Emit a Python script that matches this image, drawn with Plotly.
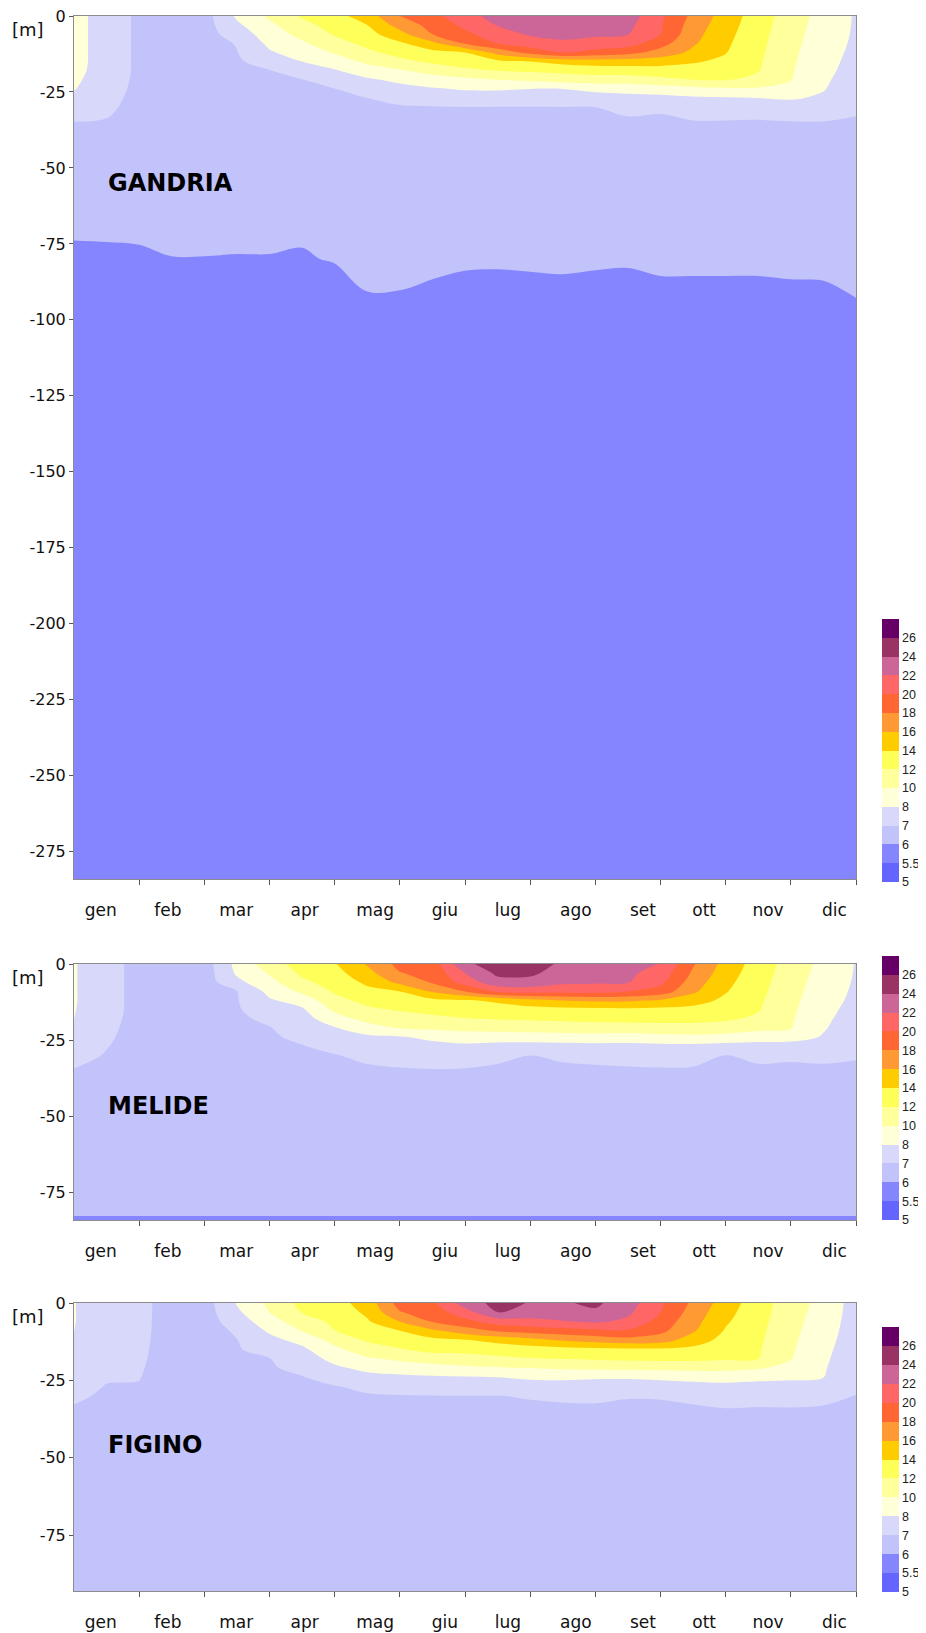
import numpy as np
import plotly.graph_objects as go

# ---------------- data ----------------
months = ["gen", "feb", "mar", "apr", "mag", "giu", "lug", "ago", "set", "ott", "nov", "dic"]

# sampling times (months since 1 January)
sample_months = [0.0, 0.5, 1.0, 1.5, 2.0, 2.5, 3.0, 3.5, 4.0, 4.5, 5.0, 5.5, 6.0,
                 6.5, 7.0, 7.5, 8.0, 8.5, 9.0, 9.5, 10.0, 10.5, 11.0, 11.5, 12.0]

# temperature levels of the colour scale (deg C) and their labels
temp_levels = [5, 5.5, 6, 7, 8, 10, 12, 14, 16, 18, 20, 22, 24, 26, 28]
level_labels = ["5", "5.5", "6", "7", "8", "10", "12", "14", "16", "18", "20", "22", "24", "26"]

# ---- GANDRIA: one temperature profile per sampling time ----
depth_gandria = [0, 3, 6, 9, 12, 15, 18, 21, 24, 27, 30, 35, 50, 70, 80, 90, 100, 284]
gandria_temp = [
    [8.6, 8.6, 8.6, 8.6, 8.6, 8.6, 8.5, 8.35, 8.09, 7.79, 7.47, 6.98, 6.5, 6.2, 5.84, 5.8, 5.8, 5.7],
    [7.6, 7.6, 7.6, 7.6, 7.6, 7.6, 7.6, 7.48, 7.37, 7.25, 7.14, 6.95, 6.5, 6.2, 5.87, 5.8, 5.8, 5.7],
    [6.8, 6.8, 6.8, 6.8, 6.8, 6.8, 6.8, 6.8, 6.78, 6.76, 6.75, 6.7, 6.5, 6.2, 5.91, 5.8, 5.8, 5.7],
    [6.6, 6.6, 6.6, 6.6, 6.6, 6.6, 6.6, 6.6, 6.6, 6.6, 6.6, 6.6, 6.5, 6.2, 5.99, 5.85, 5.85, 5.7],
    [6.6, 6.6, 6.6, 6.6, 6.6, 6.6, 6.6, 6.6, 6.6, 6.6, 6.6, 6.6, 6.5, 6.2, 5.99, 5.85, 5.85, 5.7],
    [8.3, 7.83, 7.45, 7.06, 6.97, 6.93, 6.9, 6.86, 6.82, 6.78, 6.75, 6.69, 6.5, 6.2, 5.98, 5.85, 5.85, 5.7],
    [10.35, 9.55, 9.0, 8.45, 7.89, 7.22, 6.97, 6.93, 6.88, 6.84, 6.79, 6.72, 6.5, 6.2, 5.98, 5.85, 5.85, 5.7],
    [12.2, 11.43, 10.57, 9.71, 8.86, 8.0, 7.4, 6.98, 6.93, 6.88, 6.83, 6.75, 6.5, 6.2, 5.94, 5.85, 5.85, 5.7],
    [13.3, 12.74, 12.19, 11.27, 10.18, 9.0, 7.91, 7.36, 6.98, 6.93, 6.87, 6.78, 6.5, 6.2, 6.1, 5.7, 5.7, 5.7],
    [15.0, 14.0, 13.25, 12.5, 11.6, 10.4, 9.0, 7.86, 7.43, 7.0, 6.93, 6.83, 6.5, 6.2, 6.1, 6.03, 5.88, 5.7],
    [18.0, 16.8, 15.33, 13.67, 12.67, 11.43, 9.78, 8.44, 7.67, 7.17, 6.95, 6.84, 6.5, 6.2, 6.1, 6.01, 5.8, 5.7],
    [19.4, 18.7, 18.0, 15.5, 13.45, 12.36, 10.67, 9.11, 7.9, 7.3, 6.97, 6.85, 6.5, 6.2, 6.1, 5.975, 5.85, 5.7],
    [21.2, 20.48, 19.56, 18.22, 14.0, 12.91, 11.6, 9.55, 8.18, 7.49, 6.99, 6.87, 6.5, 6.2, 6.1, 5.92, 5.85, 5.7],
    [22.8, 22.11, 21.09, 20.0, 16.67, 13.5, 12.0, 10.0, 8.24, 7.43, 6.98, 6.86, 6.5, 6.2, 6.1, 5.9, 5.85, 5.7],
    [23.3, 22.77, 22.23, 21.08, 18.67, 14.0, 12.29, 10.33, 8.0, 7.43, 6.98, 6.86, 6.5, 6.2, 6.1, 5.93, 5.85, 5.7],
    [23.5, 22.97, 22.44, 21.71, 20.0, 14.67, 12.57, 10.75, 8.0, 7.45, 6.99, 6.87, 6.5, 6.2, 6.1, 5.95, 5.85, 5.7],
    [23.3, 22.79, 22.29, 21.32, 19.33, 15.0, 12.86, 11.0, 8.5, 7.55, 7.0, 6.88, 6.5, 6.2, 6.1, 5.915, 5.85, 5.7],
    [23.0, 22.5, 22.08, 20.89, 18.67, 15.0, 12.95, 11.0, 8.71, 7.67, 7.17, 6.89, 6.5, 6.2, 6.1, 5.88, 5.85, 5.7],
    [20.4, 20.2, 20.0, 18.8, 17.2, 14.8, 13.11, 11.5, 9.0, 7.7, 7.1, 6.88, 6.5, 6.2, 6.1, 5.96, 5.85, 5.7],
    [17.5, 17.09, 16.68, 16.27, 15.56, 14.22, 13.09, 12.0, 9.33, 7.86, 7.43, 6.94, 6.5, 6.2, 6.1, 5.96, 5.85, 5.7],
    [15.1, 14.85, 14.59, 14.34, 14.08, 13.53, 12.82, 12.12, 9.67, 7.92, 7.46, 6.94, 6.5, 6.2, 6.1, 5.96, 5.85, 5.7],
    [13.0, 12.85, 12.7, 12.55, 12.4, 12.25, 12.1, 11.43, 9.71, 8.0, 7.4, 6.92, 6.5, 6.2, 6.1, 5.96, 5.85, 5.7],
    [11.0, 10.86, 10.73, 10.59, 10.45, 10.32, 10.18, 10.05, 9.27, 8.18, 7.58, 6.95, 6.5, 6.2, 6.1, 5.975, 5.85, 5.7],
    [9.3, 9.15, 9.0, 8.85, 8.7, 8.55, 8.4, 8.25, 8.1, 7.88, 7.5, 6.97, 6.5, 6.2, 6.1, 5.98, 5.85, 5.7],
    [7.9, 7.9, 7.88, 7.85, 7.8, 7.75, 7.7, 7.6, 7.45, 7.3, 7.12, 6.92, 6.5, 6.2, 6.1, 6.03, 5.96, 5.7],
]

# ---- MELIDE ----
depth_melide = [0, 3, 6, 9, 12, 15, 18, 21, 24, 27, 30, 35, 50, 80, 84]
melide_temp = [
    [8.15, 8.15, 8.15, 8.15, 8.15, 8.09, 8.02, 7.86, 7.66, 7.46, 7.25, 6.96, 6.5, 6.2, 5.95],
    [7.35, 7.35, 7.35, 7.35, 7.35, 7.35, 7.27, 7.19, 7.11, 7.03, 6.95, 6.84, 6.5, 6.2, 5.95],
    [6.7, 6.7, 6.7, 6.7, 6.7, 6.7, 6.7, 6.7, 6.7, 6.7, 6.7, 6.65, 6.5, 6.2, 5.95],
    [6.6, 6.6, 6.6, 6.6, 6.6, 6.6, 6.6, 6.6, 6.6, 6.6, 6.6, 6.6, 6.5, 6.2, 5.95],
    [6.5, 6.5, 6.5, 6.5, 6.5, 6.5, 6.5, 6.5, 6.5, 6.5, 6.5, 6.5, 6.45, 6.2, 5.95],
    [8.6, 8.27, 7.75, 6.98, 6.95, 6.91, 6.88, 6.84, 6.81, 6.77, 6.74, 6.68, 6.5, 6.2, 5.95],
    [11.1, 10.18, 9.35, 8.54, 7.88, 7.5, 7.13, 6.97, 6.92, 6.87, 6.82, 6.74, 6.5, 6.2, 5.95],
    [12.9, 12.36, 11.59, 10.37, 8.76, 7.86, 7.61, 7.37, 7.12, 6.97, 6.91, 6.81, 6.5, 6.2, 5.95],
    [13.85, 13.3, 12.75, 12.2, 11.37, 10.37, 9.12, 7.93, 7.56, 7.19, 6.97, 6.85, 6.5, 6.2, 5.95],
    [16.2, 15.31, 14.38, 13.45, 12.55, 11.61, 10.65, 9.13, 7.81, 7.47, 7.13, 6.9, 6.5, 6.2, 5.95],
    [18.6, 17.9, 16.48, 14.0, 13.08, 12.15, 11.12, 10.07, 7.91, 7.59, 7.27, 6.93, 6.5, 6.2, 5.95],
    [19.0, 18.59, 18.18, 16.21, 13.48, 12.55, 11.54, 10.38, 8.4, 7.72, 7.39, 6.95, 6.5, 6.2, 5.95],
    [23.7, 22.0, 20.8, 18.0, 13.78, 12.86, 11.91, 10.58, 8.94, 7.79, 7.36, 6.93, 6.5, 6.2, 5.95],
    [24.7, 24.4, 23.3, 20.27, 14.33, 13.08, 12.1, 10.74, 8.92, 7.68, 7.14, 6.89, 6.5, 6.2, 5.95],
    [24.8, 24.4, 23.3, 20.76, 15.27, 13.22, 12.2, 10.91, 9.0, 7.6, 7.0, 6.875, 6.5, 6.2, 5.95],
    [23.7, 23.04, 22.38, 20.63, 16.0, 13.36, 12.34, 11.02, 9.14, 7.66, 7.09, 6.89, 6.5, 6.2, 5.95],
    [23.1, 22.67, 22.23, 20.67, 16.33, 13.46, 12.45, 11.14, 9.2, 7.69, 7.17, 6.89, 6.5, 6.2, 5.95],
    [22.6, 22.36, 22.12, 20.0, 16.31, 13.52, 12.55, 11.21, 9.05, 7.7, 7.23, 6.91, 6.5, 6.2, 5.95],
    [21.95, 21.22, 20.49, 19.13, 15.65, 13.5, 12.56, 11.31, 9.3, 7.75, 7.3, 6.92, 6.5, 6.2, 5.95],
    [18.2, 17.67, 17.0, 16.33, 14.8, 13.41, 12.53, 11.33, 9.43, 7.75, 7.25, 6.91, 6.5, 6.2, 5.95],
    [15.3, 14.91, 14.52, 14.13, 13.57, 12.92, 12.28, 11.11, 9.25, 7.63, 6.99, 6.87, 6.5, 6.2, 5.95],
    [13.1, 12.91, 12.71, 12.52, 12.32, 12.13, 11.66, 10.62, 8.8, 7.65, 7.13, 6.89, 6.5, 6.2, 5.95],
    [11.2, 11.04, 10.87, 10.71, 10.55, 10.38, 10.22, 10.05, 8.67, 7.64, 7.09, 6.88, 6.5, 6.2, 5.95],
    [9.45, 9.26, 9.08, 8.9, 8.71, 8.52, 8.34, 8.15, 7.93, 7.53, 7.13, 6.89, 6.5, 6.2, 5.95],
    [7.95, 7.93, 7.9, 7.85, 7.8, 7.7, 7.6, 7.5, 7.35, 7.2, 7.05, 6.89, 6.5, 6.2, 5.95],
]

# ---- FIGINO ----
depth_figino = [0, 3, 6, 9, 12, 15, 18, 21, 24, 27, 30, 35, 50, 93]
figino_temp = [
    [8.05, 8.05, 8.05, 8.01, 7.95, 7.81, 7.66, 7.52, 7.38, 7.24, 7.1, 6.92, 6.5, 6.2],
    [7.6, 7.6, 7.6, 7.58, 7.55, 7.45, 7.33, 7.2, 7.06, 6.97, 6.91, 6.81, 6.5, 6.2],
    [7.2, 7.2, 7.19, 7.18, 7.16, 7.13, 7.1, 7.06, 7.02, 6.97, 6.91, 6.81, 6.5, 6.2],
    [6.7, 6.7, 6.7, 6.7, 6.7, 6.7, 6.7, 6.7, 6.7, 6.7, 6.7, 6.7, 6.5, 6.2],
    [6.55, 6.55, 6.55, 6.55, 6.55, 6.55, 6.55, 6.55, 6.55, 6.55, 6.55, 6.55, 6.5, 6.2],
    [8.15, 7.81, 7.48, 7.14, 6.98, 6.94, 6.9, 6.87, 6.83, 6.79, 6.75, 6.69, 6.5, 6.2],
    [10.35, 10.0, 9.14, 8.29, 7.71, 7.28, 6.98, 6.94, 6.89, 6.85, 6.8, 6.73, 6.5, 6.2],
    [12.6, 12.07, 11.1, 10.07, 8.6, 7.8, 7.48, 7.15, 6.97, 6.92, 6.86, 6.77, 6.5, 6.2],
    [13.2, 12.8, 12.39, 11.96, 10.65, 9.53, 8.59, 7.81, 7.28, 6.97, 6.91, 6.81, 6.5, 6.2],
    [14.9, 14.37, 13.77, 13.0, 12.23, 11.07, 9.76, 8.53, 7.69, 7.13, 6.95, 6.84, 6.5, 6.2],
    [18.8, 17.88, 16.0, 13.97, 12.93, 11.85, 10.35, 8.9, 7.81, 7.28, 6.97, 6.85, 6.5, 6.2],
    [19.7, 18.92, 18.13, 15.6, 13.47, 12.6, 10.86, 9.24, 7.88, 7.37, 6.98, 6.86, 6.5, 6.2],
    [23.0, 21.14, 19.38, 17.06, 13.84, 12.61, 11.21, 9.58, 7.93, 7.42, 6.99, 6.87, 6.5, 6.2],
    [24.6, 24.1, 20.9, 18.24, 14.53, 12.92, 11.54, 9.82, 8.0, 7.49, 6.99, 6.87, 6.5, 6.2],
    [23.9, 22.86, 21.52, 18.78, 15.25, 13.17, 11.88, 10.0, 8.29, 7.56, 7.04, 6.88, 6.5, 6.2],
    [23.8, 22.88, 21.9, 19.2, 16.13, 13.29, 12.04, 10.24, 8.38, 7.59, 7.08, 6.89, 6.5, 6.2],
    [24.35, 23.7, 22.28, 19.54, 16.75, 13.46, 12.21, 10.32, 8.22, 7.57, 7.1, 6.89, 6.5, 6.2],
    [22.9, 22.39, 21.59, 19.78, 17.25, 13.59, 12.37, 10.44, 8.22, 7.54, 7.03, 6.88, 6.5, 6.2],
    [20.3, 20.0, 19.26, 18.52, 16.88, 13.65, 12.47, 10.5, 8.4, 7.57, 7.04, 6.88, 6.5, 6.2],
    [17.6, 17.14, 16.69, 16.23, 15.0, 13.49, 12.47, 10.55, 8.59, 7.66, 7.14, 6.89, 6.5, 6.2],
    [15.0, 14.63, 14.25, 13.82, 13.3, 12.77, 12.25, 10.55, 8.7, 7.75, 7.3, 6.92, 6.5, 6.2],
    [12.9, 12.76, 12.62, 12.47, 12.33, 12.19, 12.05, 10.18, 8.49, 7.68, 7.23, 6.91, 6.5, 6.2],
    [11.0, 10.85, 10.69, 10.54, 10.38, 10.23, 10.07, 9.41, 8.3, 7.69, 7.26, 6.91, 6.5, 6.2],
    [9.3, 9.14, 8.98, 8.82, 8.66, 8.5, 8.34, 8.18, 8.02, 7.6, 7.18, 6.89, 6.5, 6.2],
    [7.6, 7.6, 7.58, 7.55, 7.5, 7.42, 7.35, 7.27, 7.18, 7.08, 6.99, 6.88, 6.5, 6.2],
]

# ---------------- style ----------------
band_colors = ["#6464ff", "#8585ff", "#c3c3fb", "#d8d8fa", "#ffffd8", "#ffff9c",
               "#ffff5a", "#ffcc00", "#ff9933", "#ff6633", "#ff6666", "#cc6699",
               "#993366", "#660066"]
month_label_pos = [0.41, 1.44, 2.49, 3.54, 4.62, 5.69, 6.66, 7.70, 8.73, 9.67, 10.65, 11.67]
AX_FONT = "DejaVu Sans"

# page (screenshot) geometry; the html body adds an 8 px margin around the figure
OFF = 8
PAGE_W, PAGE_H = 926, 1633
W, H = PAGE_W - OFF, PAGE_H
PLOT_L, PLOT_R = 73.6, 855.8          # page x of plot area
PLOT_TOP, PLOT_BOT = 16, 1591         # page y of first top / last bottom
ML = PLOT_L - OFF
MR = W - (PLOT_R - OFF)
MT = PLOT_TOP - OFF
MB = H - (PLOT_BOT - OFF)
PH = H - MT - MB
PW = W - ML - MR


def py(page_y):  # page y -> paper y
    return (PLOT_BOT - page_y) / PH


def px(page_x):  # page x -> paper x
    return (page_x - PLOT_L) / PW


panels = [
    # name, temp, depths, ymin, top, bottom, cb top, cb bottom, label depth, yticks (page px)
    ("GANDRIA", gandria_temp, depth_gandria, -284, 16, 879, 619, 882, -55,
     [0, -25, -50, -75, -100, -125, -150, -175, -200, -225, -250, -275]),
    ("MELIDE", melide_temp, depth_melide, -84, 964, 1220, 956, 1220, -46.6,
     [0, -25, -50, -75]),
    ("FIGINO", figino_temp, depth_figino, -93, 1303, 1591, 1327, 1592, -45.7,
     [0, -25, -50, -75]),
]

colorscale = [[i / (len(band_colors) - 1), c] for i, c in enumerate(band_colors)]
level_index = np.arange(len(temp_levels))

fig = go.Figure()
annotations = []
layout_axes = {}

for k, (name, temp, depths, ymin, top, bot, cbt, cbb, lab_y, yt) in enumerate(panels):
    sfx = "" if k == 0 else str(k + 1)
    T = np.array(temp, dtype=float).T          # depth x time
    z = np.interp(T, temp_levels, level_index)  # position on the colour scale
    y = -np.array(depths, dtype=float)
    order = np.argsort(y)
    fig.add_trace(go.Contour(
        x=sample_months, y=y[order], z=z[order],
        xaxis="x" + sfx, yaxis="y" + sfx,
        zmin=0, zmax=14, autocontour=False,
        contours=dict(start=1, end=13, size=1, coloring="fill", showlines=False),
        line=dict(width=0, smoothing=1),
        colorscale=colorscale,
        hoverinfo="skip",
        colorbar=dict(
            x=px(881.5), xanchor="left", xpad=0,
            y=py((cbt + cbb) / 2), yanchor="middle", ypad=0,
            len=cbb - cbt, lenmode="pixels", thickness=17, thicknessmode="pixels",
            outlinewidth=0, ticks="", tickmode="array",
            tickvals=list(range(len(level_labels))), ticktext=level_labels,
            tickfont=dict(family="Liberation Sans", size=12.5, color="#222"),
        ),
    ))
    layout_axes["xaxis" + sfx] = dict(
        domain=[0, 1], anchor="y" + sfx, range=[0, 12],
        tickmode="array", tickvals=month_label_pos, ticktext=months, ticks="",
        tickfont=dict(family=AX_FONT, size=17, color="#111"),
        ticklabelstandoff=16, ticklabeloverflow="allow",
        showline=True, linecolor="#8c8c8c", linewidth=1, mirror=True,
        showgrid=False, zeroline=False,
        minor=dict(tickmode="array", tickvals=list(range(1, 13)), ticks="outside",
                   ticklen=5, tickwidth=1, tickcolor="#555", showgrid=False),
    )
    layout_axes["yaxis" + sfx] = dict(
        domain=[py(bot), py(top)], anchor="x" + sfx, range=[ymin, 0],
        tickmode="array", tickvals=yt, ticktext=[str(v) for v in yt],
        ticks="outside", ticklen=4, tickcolor="#555", ticklabeloverflow="allow",
        tickfont=dict(family=AX_FONT, size=16, color="#111"),
        showline=True, linecolor="#8c8c8c", linewidth=1, mirror=True,
        showgrid=False, zeroline=False,
    )
    annotations.append(dict(
        text="[m]", xref="paper", yref="y" + sfx + " domain",
        x=px(27.6), y=1, yshift=-13, xanchor="center", yanchor="middle",
        showarrow=False, font=dict(family=AX_FONT, size=18, color="#111"),
    ))
    annotations.append(dict(
        text="<b>" + name + "</b>", xref="x" + sfx, yref="y" + sfx,
        x=(105.6 - PLOT_L) / (PW / 12), y=lab_y, xanchor="left", yanchor="middle",
        showarrow=False, font=dict(family="DejaVu Sans", size=24, color="#000"),
    ))

fig.update_layout(
    width=W, height=H,
    margin=dict(l=ML, r=MR, t=MT, b=MB, autoexpand=False),
    paper_bgcolor="white", plot_bgcolor="white",
    showlegend=False,
    annotations=annotations,
    **layout_axes,
)

fig.write_html("out.html")
